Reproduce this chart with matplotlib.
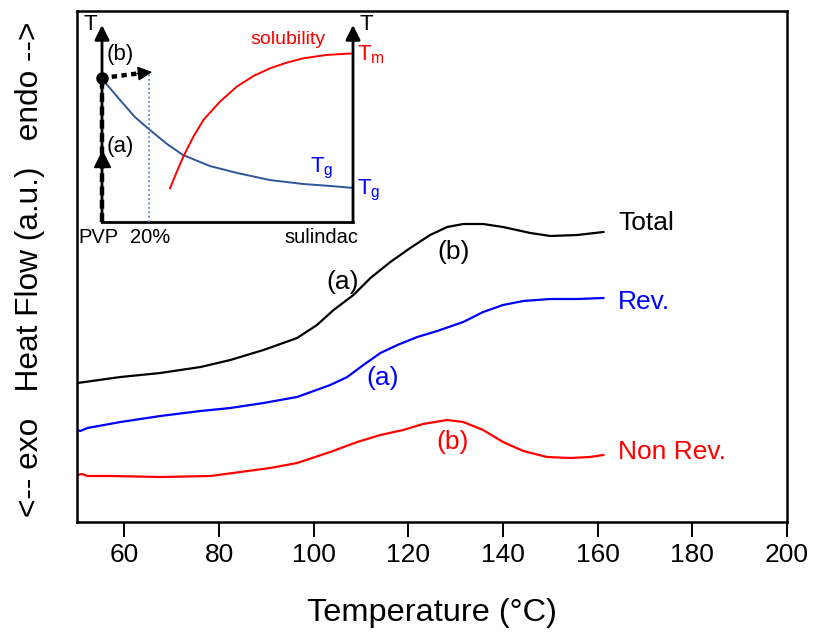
import matplotlib
matplotlib.use("Agg")
import matplotlib.pyplot as plt
import numpy as np

plt.rcParams['font.family'] = ['Liberation Sans', 'DejaVu Sans']
plt.rcParams['mathtext.fontset'] = 'custom'
plt.rcParams['mathtext.rm'] = 'Liberation Sans'

# main DSC curves (temperature in degC, heat flow in a.u.)
total_t = [50.1, 59.2, 67.6, 76.1, 82.4, 89.4, 96.5, 100.7, 104.2, 108.4, 112.0,
           116.2, 120.4, 124.6, 128.2, 131.6, 135.8, 140.0, 145.8, 150.0, 155.7, 161.2]
total_hf = [139, 145, 149, 155, 162, 172, 184, 197, 212, 227, 244,
            260, 274, 287, 295, 298, 298, 295, 289, 286, 287, 290]

rev_t = [50.1, 50.7, 52.2, 59.2, 67.6, 76.1, 82.4, 89.4, 96.5, 103.5, 107.1, 110.5,
         114.1, 117.7, 121.9, 126.1, 131.6, 135.8, 140.0, 144.3, 150.0, 155.7, 161.2]
rev_hf = [92, 91, 94, 100, 106, 111, 114, 119, 125, 137, 145, 157,
          169, 177, 185, 191, 200, 210, 217, 221, 223, 223, 224]

nonrev_t = [50.1, 51.1, 52.2, 57.1, 67.6, 78.2, 90.8, 96.5, 103.5, 109.2, 114.1,
            118.9, 123.1, 128.2, 131.6, 135.8, 140.0, 144.3, 149.3, 154.2, 158.4, 161.2]
nonrev_hf = [47, 48, 46, 46, 45, 46, 54, 59, 70, 80, 87,
             92, 98, 102, 100, 92, 80, 71, 65, 64, 65, 67]

xticks = [60, 80, 100, 120, 140, 160, 180, 200]

# inset phase diagram (composition 0 = PVP, 1 = sulindac; T normalised)
tg_x = [0.0, 0.004, 0.072, 0.131, 0.191, 0.259, 0.323, 0.430, 0.538, 0.669, 0.801, 0.908, 1.0]
tg_y = [0.731, 0.721, 0.619, 0.533, 0.467, 0.396, 0.340, 0.284, 0.249, 0.213, 0.193, 0.183, 0.173]
sol_x = [0.271, 0.298, 0.324, 0.364, 0.404, 0.470, 0.537, 0.603, 0.669, 0.736, 0.802, 0.895, 1.0]
sol_y = [0.171, 0.255, 0.332, 0.433, 0.518, 0.611, 0.687, 0.741, 0.780, 0.809, 0.831, 0.848, 0.856]
drug_frac = 0.187
point_y = 0.731

fig = plt.figure(figsize=(8.13, 6.37), dpi=100)
ax = fig.add_axes([77 / 813, 1 - 522 / 637, 710 / 813, 511 / 637])

ax.plot(total_t, total_hf, color='black', lw=1.6)
ax.plot(rev_t, rev_hf, color='#0000ff', lw=1.6)
ax.plot(nonrev_t, nonrev_hf, color='#ff0000', lw=1.6)

ax.set_xlim(50, 200)
ax.set_ylim(0, 511)
ax.set_xticks(xticks)
ax.set_yticks([])
ax.tick_params(axis='x', direction='out', length=11, width=1.4, pad=4, labelsize=19)
for s in ax.spines.values():
    s.set_linewidth(1.8)

ax.text(164.3, 299, 'Total', fontsize=19, color='black', va='center')
ax.text(164.3, 220, 'Rev.', fontsize=19, color='#0000ff', va='center')
ax.text(164.3, 70, 'Non Rev.', fontsize=19, color='#ff0000', va='center')
ax.text(106.2, 240, '(a)', fontsize=19, color='black', ha='center', va='center')
ax.text(129.5, 270, '(b)', fontsize=19, color='black', ha='center', va='center')
ax.text(114.5, 144, '(a)', fontsize=19, color='#0000ff', ha='center', va='center')
ax.text(129.3, 80, '(b)', fontsize=19, color='#ff0000', ha='center', va='center')

fig.text(432 / 813, 1 - 613 / 637, 'Temperature (\u00b0C)', fontsize=23.4,
         ha='center', va='center')
fig.text(30 / 813, 1 - 269 / 637, '<-- exo   Heat Flow (a.u.)   endo -->',
         fontsize=22.8, rotation=90, ha='center', va='center')

# inset
ins = fig.add_axes([102 / 813, 1 - 222 / 637, 251 / 813, 197 / 637])
ins.set_xlim(0, 1)
ins.set_ylim(0, 1)
ins.axis('off')

arrow = dict(arrowstyle='-|>', lw=2, color='black', mutation_scale=22,
             shrinkA=0, shrinkB=0)
ins.annotate('', xy=(0, 1), xytext=(0, 0), arrowprops=arrow, annotation_clip=False)
ins.annotate('', xy=(1, 1), xytext=(1, 0), arrowprops=arrow, annotation_clip=False)
ins.plot([0, 1], [0, 0], color='black', lw=2, clip_on=False, solid_capstyle='projecting')

ins.plot(tg_x, tg_y, color='#2f5597', lw=1.4, clip_on=False)
ins.plot(sol_x, sol_y, color='#ff0000', lw=1.4, clip_on=False)
ins.plot([drug_frac, drug_frac], [0, 0.761], color='#4472c4', lw=1.2,
         linestyle=':', clip_on=False)

# path (a): heating pure composition, path (b): mixing
ins.plot([0, 0], [0, point_y], color='black', lw=3.2, dashes=(2, 1), clip_on=False)
ins.plot(0, 0.32, marker='^', color='black', ms=11, clip_on=False)
ins.plot([0, 0.15], [point_y, 0.755], color='black', lw=3.2, dashes=(1.2, 1.0),
         clip_on=False)
ins.annotate('', xy=(0.2, 0.761), xytext=(0.14, 0.753),
             arrowprops=dict(arrowstyle='-|>', lw=1, color='black',
                             mutation_scale=22, shrinkA=0, shrinkB=0),
             annotation_clip=False)
ins.plot(0, point_y, 'o', color='black', ms=8, clip_on=False)

ins.text(-0.048, 0.977, 'T', fontsize=16, ha='center', va='baseline')
ins.text(1.052, 0.977, 'T', fontsize=16, ha='center', va='baseline')
ins.text(0.072, 0.848, '(b)', fontsize=16, ha='center', va='center')
ins.text(0.072, 0.381, '(a)', fontsize=16, ha='center', va='center')
ins.text(0.741, 0.924, 'solubility', fontsize=14, color='#ff0000', ha='center', va='center')
ins.text(1.016, 0.848, 'T$_\\mathregular{m}$', fontsize=16, color='#ff0000',
         ha='left', va='center')
ins.text(0.876, 0.274, 'T$_\\mathregular{g}$', fontsize=16, color='#0000ff',
         ha='center', va='center')
ins.text(1.016, 0.162, 'T$_\\mathregular{g}$', fontsize=16, color='#0000ff',
         ha='left', va='center')
ins.text(-0.016, -0.081, 'PVP', fontsize=14.5, ha='center', va='center')
ins.text(0.191, -0.081, '20%', fontsize=14.5, ha='center', va='center')
ins.text(0.876, -0.081, 'sulindac', fontsize=14.5, ha='center', va='center')

plt.savefig('out.png', dpi=100)
plt.close(fig=fig)
